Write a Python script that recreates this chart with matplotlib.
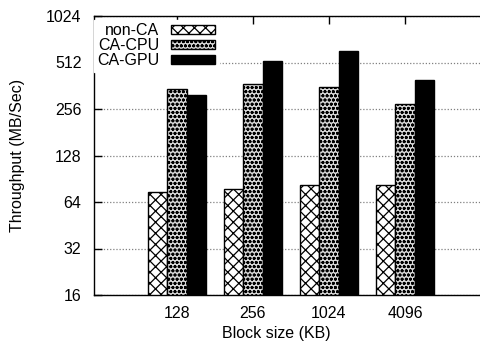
import matplotlib
matplotlib.use("Agg")
import matplotlib.pyplot as plt
from matplotlib.ticker import FixedLocator, NullLocator
import numpy as np

# data
block_sizes = ["128", "256", "1024", "4096"]
series_names = ["non-CA", "CA-CPU", "CA-GPU"]
non_ca = [58, 62, 66, 66]
ca_cpu = [328, 354, 340, 259]
ca_gpu = [298, 506, 592, 377]
y_ticks = [16, 32, 64, 128, 256, 512, 1024]

plt.rcParams["font.family"] = ["Liberation Sans", "DejaVu Sans"]
plt.rcParams["font.size"] = 11.5
plt.rcParams["hatch.linewidth"] = 0.9

fig = plt.figure(figsize=(4.81, 3.41), dpi=100)
ax = fig.add_axes([94 / 481, 46 / 341, 1 - 94 / 481, 279 / 341])

x = np.arange(len(block_sizes))
w = 0.254
styles = [
    dict(facecolor="white", hatch="xxx", edgecolor="black"),
    dict(facecolor="#d8d8d8", hatch="oooo", edgecolor="black"),
    dict(facecolor="black", hatch=None, edgecolor="black"),
]
for i, (vals, st) in enumerate(zip([non_ca, ca_cpu, ca_gpu], styles)):
    ax.bar(x + (i - 1) * w, vals, width=w, bottom=16, label=series_names[i],
           linewidth=1.0, zorder=3, **st)

ax.set_yscale("log", base=2)
ax.set_ylim(16, 1024)
ax.set_xlim(-1.09, 4.0)
ax.yaxis.set_major_locator(FixedLocator(y_ticks))
ax.set_yticklabels([str(v) for v in y_ticks])
ax.yaxis.set_minor_locator(NullLocator())
ax.set_xticks(x)
ax.set_xticklabels(block_sizes)

ax.tick_params(direction="in", length=6, width=1, top=True, right=False,
               colors="black", pad=8)
ax.tick_params(axis="y", pad=9)
ax.spines["right"].set_visible(False)
for s in ["left", "top", "bottom"]:
    ax.spines[s].set_linewidth(1.0)

ax.yaxis.grid(True, color="#808080", linestyle=(0, (1, 1.5)), linewidth=0.9, zorder=0)
ax.set_axisbelow(True)

ax.set_xlabel("Block size (KB)")
ax.set_ylabel("Throughput (MB/Sec)")
ax.xaxis.set_label_coords((276 - 94) / 387, -0.112)
ax.yaxis.set_label_coords(-69 / 387, 0.5)

leg = ax.legend(loc="upper left", bbox_to_anchor=(0.0, 0.985), markerfirst=False,
                frameon=True, fancybox=False, edgecolor="white", framealpha=1.0,
                borderpad=0.2, borderaxespad=0, labelspacing=0.0,
                handlelength=2.8, handleheight=0.45, handletextpad=0.7)
leg.set_zorder(5)

fig.savefig("out.png", dpi=100, facecolor="white")
